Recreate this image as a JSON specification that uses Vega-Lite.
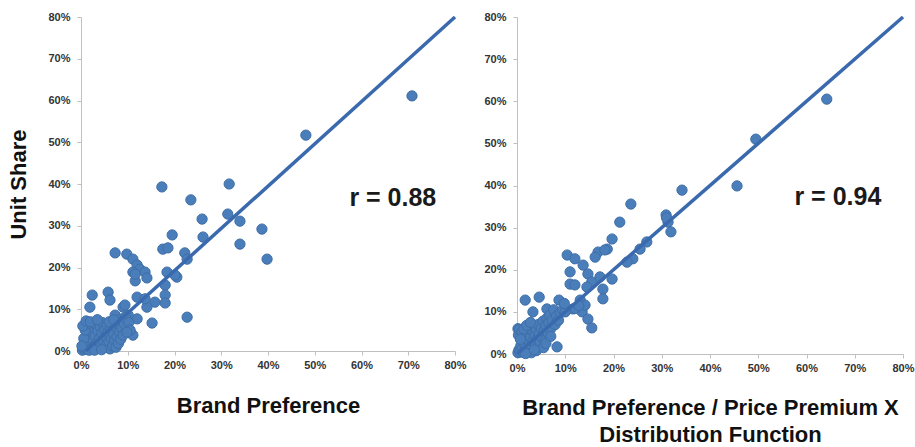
{
  "$schema": "https://vega.github.io/schema/vega-lite/v6.json",
  "background": "white",
  "padding": {"left": 7, "top": 10, "right": 0, "bottom": 0},
  "bounds": "flush",
  "spacing": 62,
  "config": {
    "view": {"stroke": null},
    "font": "Liberation Sans",
    "axis": {
      "grid": false,
      "domainColor": "#c0c0c0",
      "domainWidth": 1,
      "tickColor": "#c0c0c0",
      "tickSize": 4,
      "labelFont": "Liberation Sans",
      "labelFontSize": 11,
      "labelFontWeight": "bold",
      "labelColor": "#333333",
      "titleFont": "Liberation Sans",
      "titleFontSize": 22,
      "titleFontWeight": "bold",
      "titleColor": "#111111"
    }
  },
  "datasets": {
    "left": [
      {"x": 70.8, "y": 61.1}, {"x": 48.1, "y": 51.7}, {"x": 31.7, "y": 40.0}, {"x": 17.3, "y": 39.3},
      {"x": 23.5, "y": 36.2}, {"x": 25.9, "y": 31.6}, {"x": 31.4, "y": 32.8}, {"x": 34.0, "y": 31.1},
      {"x": 38.7, "y": 29.2}, {"x": 34.0, "y": 25.6}, {"x": 39.8, "y": 22.0}, {"x": 26.1, "y": 27.3},
      {"x": 19.5, "y": 27.8}, {"x": 17.5, "y": 24.4}, {"x": 18.6, "y": 24.7}, {"x": 22.2, "y": 23.5},
      {"x": 22.7, "y": 22.0}, {"x": 7.3, "y": 23.5}, {"x": 9.8, "y": 23.2}, {"x": 11.1, "y": 22.0},
      {"x": 12.0, "y": 20.6}, {"x": 12.6, "y": 19.6}, {"x": 13.7, "y": 18.9}, {"x": 11.1, "y": 18.9},
      {"x": 11.6, "y": 16.8}, {"x": 14.1, "y": 17.5}, {"x": 18.4, "y": 18.9}, {"x": 20.5, "y": 17.7},
      {"x": 18.0, "y": 15.8}, {"x": 18.0, "y": 13.4}, {"x": 18.0, "y": 11.5}, {"x": 15.8, "y": 11.7},
      {"x": 14.1, "y": 10.5}, {"x": 12.0, "y": 12.9}, {"x": 13.7, "y": 12.5}, {"x": 15.2, "y": 6.7},
      {"x": 22.7, "y": 8.1}, {"x": 12.0, "y": 7.7}, {"x": 11.1, "y": 3.8}, {"x": 9.0, "y": 10.5},
      {"x": 7.3, "y": 8.6}, {"x": 9.4, "y": 11.0}, {"x": 10.1, "y": 8.6}, {"x": 8.8, "y": 7.7},
      {"x": 2.4, "y": 13.4}, {"x": 1.9, "y": 10.5}, {"x": 5.8, "y": 14.1}, {"x": 6.2, "y": 12.2},
      {"x": 20.1, "y": 18.2}, {"x": 11.6, "y": 18.4},
      {"x": 0.3, "y": 0.2}, {"x": 0.5, "y": 0.8}, {"x": 0.8, "y": 0.4}, {"x": 1.0, "y": 1.5},
      {"x": 1.2, "y": 0.6}, {"x": 1.5, "y": 2.2}, {"x": 1.6, "y": 1.0}, {"x": 1.8, "y": 3.5},
      {"x": 2.0, "y": 0.3}, {"x": 2.1, "y": 1.8}, {"x": 2.3, "y": 4.5}, {"x": 2.5, "y": 2.8},
      {"x": 2.6, "y": 0.9}, {"x": 2.8, "y": 5.5}, {"x": 3.0, "y": 3.6}, {"x": 3.1, "y": 1.4},
      {"x": 3.3, "y": 6.2}, {"x": 3.5, "y": 2.0}, {"x": 3.6, "y": 4.8}, {"x": 3.8, "y": 0.6},
      {"x": 4.0, "y": 3.0}, {"x": 4.1, "y": 5.8}, {"x": 4.3, "y": 1.7}, {"x": 4.5, "y": 4.2},
      {"x": 4.6, "y": 6.8}, {"x": 4.8, "y": 2.5}, {"x": 5.0, "y": 0.8}, {"x": 5.1, "y": 5.2},
      {"x": 5.3, "y": 3.5}, {"x": 5.5, "y": 1.6}, {"x": 5.6, "y": 6.0}, {"x": 5.8, "y": 4.4},
      {"x": 6.0, "y": 2.2}, {"x": 6.2, "y": 0.5}, {"x": 6.3, "y": 5.5}, {"x": 6.5, "y": 3.0},
      {"x": 6.7, "y": 6.5}, {"x": 6.8, "y": 1.2}, {"x": 7.0, "y": 4.0}, {"x": 7.2, "y": 2.6},
      {"x": 7.4, "y": 5.8}, {"x": 7.5, "y": 0.9}, {"x": 7.7, "y": 3.4}, {"x": 7.9, "y": 6.8},
      {"x": 8.0, "y": 1.8}, {"x": 8.2, "y": 4.6}, {"x": 8.5, "y": 2.8}, {"x": 8.7, "y": 5.5},
      {"x": 9.0, "y": 3.8}, {"x": 9.3, "y": 6.5}, {"x": 0.6, "y": 3.0}, {"x": 0.9, "y": 5.0},
      {"x": 1.3, "y": 6.5}, {"x": 0.4, "y": 6.0}, {"x": 1.1, "y": 7.2}, {"x": 2.0, "y": 7.0},
      {"x": 3.5, "y": 7.5}, {"x": 1.7, "y": 0.2}, {"x": 0.2, "y": 1.2}, {"x": 2.9, "y": 0.2},
      {"x": 4.4, "y": 0.3}, {"x": 6.0, "y": 7.0}, {"x": 7.0, "y": 7.5}, {"x": 9.5, "y": 8.0},
      {"x": 10.2, "y": 6.8}, {"x": 10.5, "y": 5.0}, {"x": 9.8, "y": 4.5}
    ],
    "right": [
      {"x": 64.2, "y": 60.5}, {"x": 49.5, "y": 51.0}, {"x": 45.6, "y": 39.9}, {"x": 34.2, "y": 38.9},
      {"x": 23.6, "y": 35.6}, {"x": 21.3, "y": 31.3}, {"x": 19.7, "y": 27.3}, {"x": 30.9, "y": 33.0},
      {"x": 31.3, "y": 31.3}, {"x": 31.9, "y": 29.0}, {"x": 31.0, "y": 32.3}, {"x": 25.5, "y": 24.9},
      {"x": 26.9, "y": 26.6}, {"x": 24.0, "y": 22.6}, {"x": 22.8, "y": 21.8}, {"x": 18.7, "y": 24.9},
      {"x": 16.8, "y": 24.2}, {"x": 16.2, "y": 23.0}, {"x": 18.2, "y": 24.7}, {"x": 10.4, "y": 23.5},
      {"x": 12.0, "y": 22.6}, {"x": 13.7, "y": 21.1}, {"x": 14.7, "y": 19.0}, {"x": 11.0, "y": 19.5},
      {"x": 11.0, "y": 16.6}, {"x": 12.0, "y": 16.4}, {"x": 15.5, "y": 17.1}, {"x": 17.2, "y": 18.3},
      {"x": 19.7, "y": 17.8}, {"x": 17.8, "y": 15.4}, {"x": 17.8, "y": 13.1}, {"x": 14.5, "y": 15.9},
      {"x": 13.1, "y": 12.8}, {"x": 11.6, "y": 10.7}, {"x": 13.5, "y": 10.0}, {"x": 14.1, "y": 11.6},
      {"x": 14.7, "y": 8.3}, {"x": 15.5, "y": 6.2}, {"x": 8.3, "y": 1.7}, {"x": 8.7, "y": 12.8},
      {"x": 4.6, "y": 13.5}, {"x": 1.7, "y": 12.8}, {"x": 3.3, "y": 10.0}, {"x": 6.2, "y": 10.7},
      {"x": 0.2, "y": 6.0},
      {"x": 0.2, "y": 0.3}, {"x": 0.4, "y": 1.0}, {"x": 0.6, "y": 0.5}, {"x": 0.8, "y": 2.0},
      {"x": 1.0, "y": 1.2}, {"x": 1.1, "y": 3.2}, {"x": 1.3, "y": 0.4}, {"x": 1.5, "y": 2.5},
      {"x": 1.7, "y": 4.2}, {"x": 1.9, "y": 1.5}, {"x": 2.1, "y": 3.5}, {"x": 2.3, "y": 0.8},
      {"x": 2.4, "y": 5.0}, {"x": 2.6, "y": 2.6}, {"x": 2.8, "y": 4.0}, {"x": 3.0, "y": 1.8},
      {"x": 3.2, "y": 5.5}, {"x": 3.3, "y": 3.0}, {"x": 3.5, "y": 6.5}, {"x": 3.7, "y": 4.5},
      {"x": 3.9, "y": 2.2}, {"x": 4.0, "y": 5.8}, {"x": 4.2, "y": 3.6}, {"x": 4.4, "y": 7.0},
      {"x": 4.6, "y": 4.8}, {"x": 4.8, "y": 2.8}, {"x": 5.0, "y": 6.2}, {"x": 5.2, "y": 4.0},
      {"x": 5.4, "y": 7.8}, {"x": 5.6, "y": 5.4}, {"x": 5.8, "y": 3.2}, {"x": 6.0, "y": 6.8},
      {"x": 6.2, "y": 8.5}, {"x": 6.4, "y": 5.0}, {"x": 6.6, "y": 7.4}, {"x": 6.8, "y": 9.2},
      {"x": 7.0, "y": 6.0}, {"x": 7.3, "y": 8.0}, {"x": 7.6, "y": 10.5}, {"x": 7.9, "y": 7.0},
      {"x": 8.2, "y": 9.0}, {"x": 8.6, "y": 8.0}, {"x": 9.0, "y": 9.8}, {"x": 9.5, "y": 10.5},
      {"x": 10.0, "y": 10.0}, {"x": 0.3, "y": 4.5}, {"x": 0.5, "y": 5.8}, {"x": 1.0, "y": 5.2},
      {"x": 0.7, "y": 3.5}, {"x": 1.4, "y": 6.0}, {"x": 2.0, "y": 6.8}, {"x": 2.8, "y": 7.5},
      {"x": 3.0, "y": 0.3}, {"x": 4.0, "y": 0.8}, {"x": 5.5, "y": 1.5}, {"x": 1.8, "y": 0.1},
      {"x": 3.6, "y": 1.0}, {"x": 6.0, "y": 2.5}, {"x": 7.0, "y": 4.2}, {"x": 12.0, "y": 10.8},
      {"x": 12.8, "y": 11.5}, {"x": 9.8, "y": 12.0}
    ],
    "leftLine": [{"x": 1, "y": 0}, {"x": 80, "y": 80}],
    "rightLine": [{"x": 0, "y": 0}, {"x": 80, "y": 80}],
    "leftNote": [{"x": 66.7, "y": 36.6, "label": "r = 0.88"}],
    "rightNote": [{"x": 66.5, "y": 37.2, "label": "r = 0.94"}]
  },
  "hconcat": [
    {
      "width": 374,
      "height": 334,
      "layer": [
        {
          "data": {"name": "left"},
          "mark": {"type": "circle", "size": 105, "opacity": 1, "color": "#4a7ebb", "stroke": "#3f6ea6", "strokeWidth": 1},
          "encoding": {
            "x": {"field": "x", "type": "quantitative",
              "scale": {"domain": [0, 80], "nice": false},
              "axis": {"values": [0, 10, 20, 30, 40, 50, 60, 70, 80], "labelExpr": "datum.value + '%'", "title": "Brand Preference", "labelPadding": 4, "titlePadding": 25, "labelFlush": false}},
            "y": {"field": "y", "type": "quantitative",
              "scale": {"domain": [0, 80], "nice": false},
              "axis": {"values": [0, 10, 20, 30, 40, 50, 60, 70, 80], "labelExpr": "datum.value + '%'", "title": "Unit Share", "labelPadding": 7, "titlePadding": 17, "labelFlush": false}}
          }
        },
        {
          "data": {"name": "leftLine"},
          "mark": {"type": "line", "color": "#3a6aad", "strokeWidth": 3.5},
          "encoding": {
            "x": {"field": "x", "type": "quantitative"},
            "y": {"field": "y", "type": "quantitative"}
          }
        },
        {
          "data": {"name": "leftNote"},
          "mark": {"type": "text", "fontSize": 25, "fontWeight": "bold", "font": "Liberation Sans", "color": "#1a1a1a", "align": "center", "baseline": "middle"},
          "encoding": {
            "x": {"field": "x", "type": "quantitative"},
            "y": {"field": "y", "type": "quantitative"},
            "text": {"field": "label"}
          }
        }
      ]
    },
    {
      "width": 386,
      "height": 337,
      "layer": [
        {
          "data": {"name": "right"},
          "mark": {"type": "circle", "size": 105, "opacity": 1, "color": "#4a7ebb", "stroke": "#3f6ea6", "strokeWidth": 1},
          "encoding": {
            "x": {"field": "x", "type": "quantitative",
              "scale": {"domain": [0, 80], "nice": false},
              "axis": {"values": [0, 10, 20, 30, 40, 50, 60, 70, 80], "labelExpr": "datum.value + '%'", "title": ["Brand Preference / Price Premium X", "Distribution Function"], "titleLineHeight": 27, "labelPadding": 4, "titlePadding": 24, "labelFlush": false}},
            "y": {"field": "y", "type": "quantitative",
              "scale": {"domain": [0, 80], "nice": false},
              "axis": {"values": [0, 10, 20, 30, 40, 50, 60, 70, 80], "labelExpr": "datum.value + '%'", "title": null, "labelPadding": 7, "labelFlush": false}}
          }
        },
        {
          "data": {"name": "rightLine"},
          "mark": {"type": "line", "color": "#3a6aad", "strokeWidth": 3.5},
          "encoding": {
            "x": {"field": "x", "type": "quantitative"},
            "y": {"field": "y", "type": "quantitative"}
          }
        },
        {
          "data": {"name": "rightNote"},
          "mark": {"type": "text", "fontSize": 25, "fontWeight": "bold", "font": "Liberation Sans", "color": "#1a1a1a", "align": "center", "baseline": "middle"},
          "encoding": {
            "x": {"field": "x", "type": "quantitative"},
            "y": {"field": "y", "type": "quantitative"},
            "text": {"field": "label"}
          }
        }
      ]
    }
  ]
}
